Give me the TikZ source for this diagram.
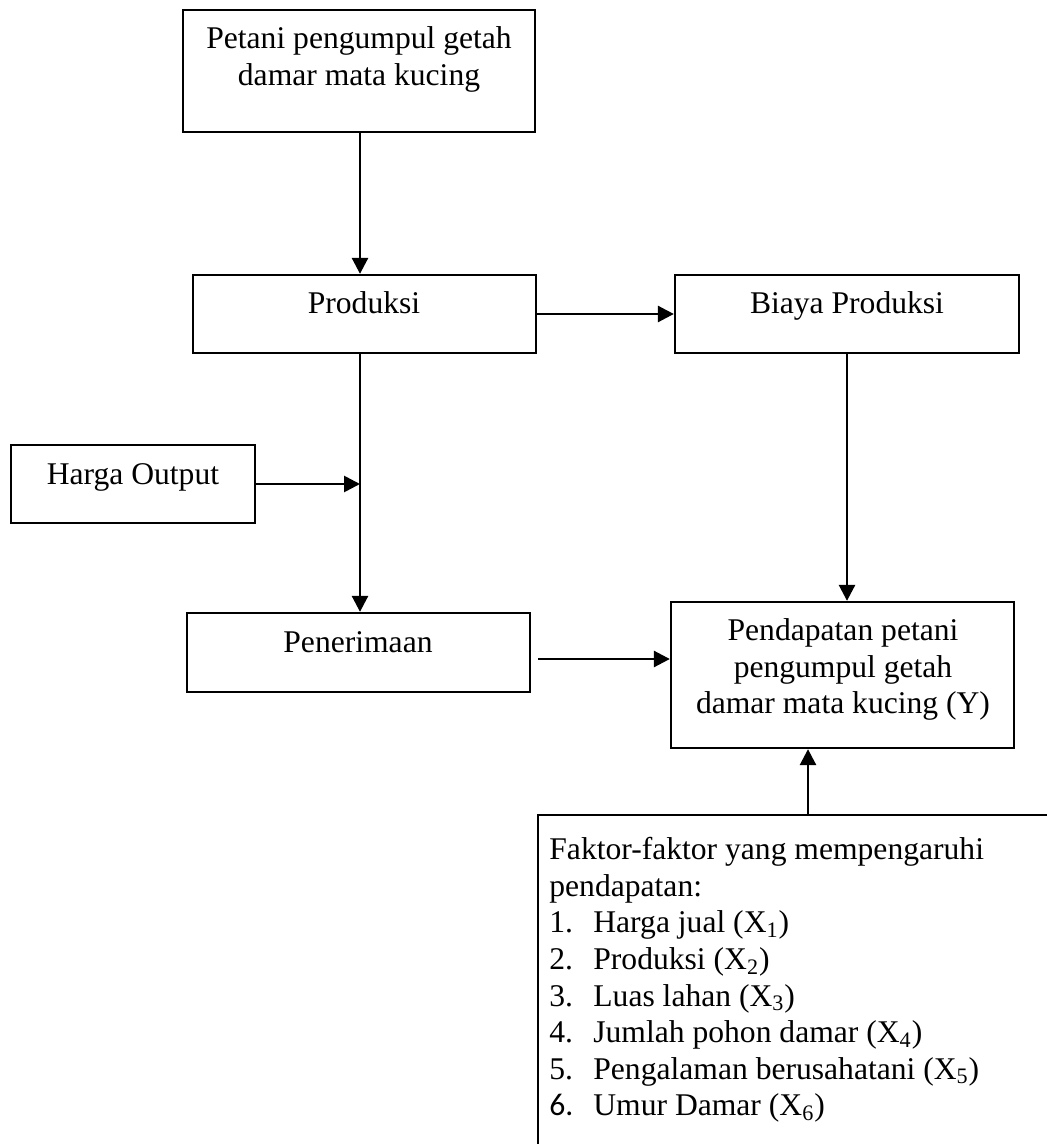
\documentclass[tikz,border=0pt]{standalone}
\usepackage{fontspec}
\setmainfont{Liberation Serif}
\newfontfamily\calibri{Carlito}
\usetikzlibrary{arrows.meta,fit}
\begin{document}
\begin{tikzpicture}[x=0.5pt,y=-0.5pt,
  box/.style={draw,line width=1.15pt,inner sep=0pt},
  txt/.style={inner sep=0pt,align=center,font=\fontsize{15.8pt}{18.4pt}\selectfont},
  ltxt/.style={inner sep=0pt,align=left,font=\fontsize{15.8pt}{18.3pt}\selectfont},
  arr/.style={line width=1.35pt,-{Triangle[length=8pt,width=8pt]}}]
\useasboundingbox (0,0) rectangle (1047,1144);
\clip (0,0) rectangle (1047,1144);
% boxes
\node[box, fit={(183,10) (535,132)}] (top) {};
\node[box, fit={(193,275) (536,353)}] (prod) {};
\node[box, fit={(675,275) (1019,353)}] (biaya) {};
\node[box, fit={(11,445) (255,523)}] (harga) {};
\node[box, fit={(187,613) (530,692)}] (pen) {};
\node[box, fit={(671,602) (1014,748)}] (pend) {};
\node[box, fit={(538,815) (1070,1170)}] (fak) {};
% texts
\node[txt, anchor=north] (toptxt) at (359,26) {Petani pengumpul getah\\damar mata kucing};
\node[txt, anchor=north] (prodtxt) at (364,291) {Produksi};
\node[txt, anchor=north] (biayatxt) at (847,291) {Biaya Produksi};
\node[txt, anchor=north] (hargatxt) at (133,463) {Harga Output};
\node[txt, anchor=north] (pentxt) at (358,631) {Penerimaan};
\node[txt, anchor=north] (pendtxt) at (843,618) {Pendapatan petani\\pengumpul getah\\damar mata kucing (Y)};
\node[ltxt, anchor=north west] (faktxt) at (549,837) {Faktor-faktor yang mempengaruhi\\
pendapatan:\\
\makebox[22pt][l]{1.}Harga jual (X\textsubscript{1})\\
\makebox[22pt][l]{2.}Produksi (X\textsubscript{2})\\
\makebox[22pt][l]{3.}Luas lahan (X\textsubscript{3})\\
\makebox[22pt][l]{4.}Jumlah pohon damar (X\textsubscript{4})\\
\makebox[22pt][l]{5.}Pengalaman berusahatani (X\textsubscript{5})\\
\makebox[22pt][l]{\calibri 6.}Umur Damar (X\textsubscript{6})};
% connector anchors
\coordinate (cx) at (360,0);
\coordinate (fx) at (808,0);
% connectors
\draw[arr] (top.south -| cx) -- (prod.north -| cx);
\draw[arr] (prod.south -| cx) -- (pen.north -| cx);
\draw[arr] (harga.east) -- (harga.east -| cx);
\draw[arr] (prod.east) -- (biaya.west);
\draw[arr] (biaya.south) -- (biaya.south |- pend.north);
\draw[arr] ([xshift=3.5pt,yshift=-3.25pt]pen.east) -- ([yshift=-3.25pt]pen.east -| pend.west);
\draw[arr] (fak.north -| fx) -- (pend.south -| fx);
\end{tikzpicture}
\end{document}
